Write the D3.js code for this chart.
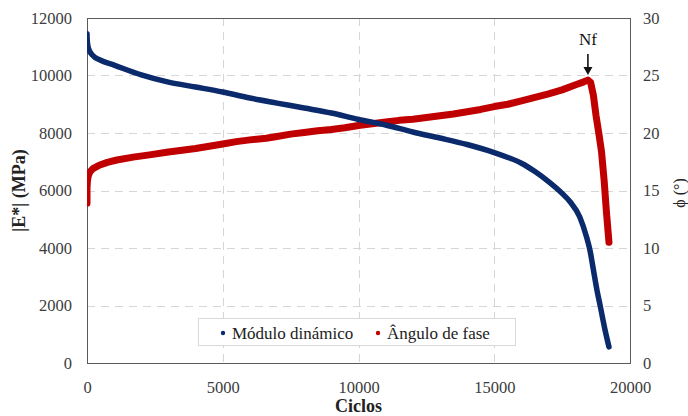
<!DOCTYPE html>
<html>
<head>
<meta charset="utf-8">
<script src="https://cdn.jsdelivr.net/npm/d3@7"></script>
<style>
  html, body { margin: 0; padding: 0; background: #fff; }
  svg { display: block; }
  svg text { font-family: "Liberation Serif", "DejaVu Serif", serif; }
</style>
</head>
<body>
<svg id="chart" width="688" height="416"></svg>
<script>
// Ensayo de fatiga: módulo dinámico |E*| y ángulo de fase frente a ciclos
const modulusCycles = [0, 10, 30, 60, 200, 500, 1000, 2000, 3000, 4000, 5000, 6000, 7000, 8000, 9000,
  10000, 11000, 12000, 13000, 14000, 15000, 15500, 16000, 16500, 17000, 17500, 17800, 18150,
  18400, 18530, 18650, 18780, 18900, 19080, 19225];
const modulusValues = [11450, 11200, 11050, 10930, 10710, 10530, 10360, 10020, 9770, 9600, 9425, 9215, 9040, 8870, 8695,
  8470, 8280, 8035, 7825, 7600, 7320, 7150, 6950, 6660, 6310, 5900, 5600, 5080,
  4380, 3900, 3250, 2550, 2000, 1150, 560];

const phaseCycles = [0, 0, 0, 15, 40, 100, 220, 450, 750, 1100, 1700, 2300, 3000, 3500, 4000, 4500, 5000,
  5500, 6000, 6600, 7000, 7500, 8000, 8500, 9000, 9500, 10000, 10500, 11000, 11500, 12000, 12500, 13000,
  13500, 14000, 14500, 15000, 15500, 16000, 16500, 17000, 17500, 18000, 18300, 18450, 18550, 18650,
  18750, 18850, 18950, 19050, 19130, 19225];
const phaseValues = [13.9, 14.6, 15.2, 15.8, 16.2, 16.6, 16.9, 17.2, 17.45, 17.65, 17.9, 18.1, 18.35, 18.5, 18.65, 18.85, 19.05,
  19.25, 19.4, 19.55, 19.7, 19.9, 20.05, 20.2, 20.3, 20.45, 20.65, 20.8, 20.95, 21.1, 21.2, 21.35, 21.5,
  21.65, 21.85, 22.05, 22.3, 22.5, 22.8, 23.1, 23.4, 23.75, 24.2, 24.45, 24.6, 24.4, 23.3,
  21.5, 20.0, 18.4, 15.8, 13.2, 10.5];

const xTicks = [0, 5000, 10000, 15000, 20000];
const modulusTicks = [0, 2000, 4000, 6000, 8000, 10000, 12000];
const phaseTicks = [0, 5, 10, 15, 20, 25, 30];

const seriesNames = ["Módulo dinámico", "Ângulo de fase"];
const seriesColors = ["#0b2a6b", "#c00000"];
const failureLabel = "Nf";
const failureCycle = 18450;
const failurePhase = 24.6;

const width = 688, height = 416;
const margin = { top: 18, right: 58, bottom: 53, left: 87 };
const svg = d3.select("#chart");
const serif = "Liberation Serif, DejaVu Serif, serif";

const x = d3.scaleLinear().domain([0, 20000]).range([margin.left, width - margin.right]);
const yLeft = d3.scaleLinear().domain([0, 12000]).range([height - margin.bottom, margin.top]);
const yRight = d3.scaleLinear().domain([0, 30]).range([height - margin.bottom, margin.top]);

const plotLeft = margin.left, plotRight = width - margin.right;
const plotTop = margin.top, plotBottom = height - margin.bottom;

// gridlines
const grid = svg.append("g").attr("stroke", "#d6d6d6").attr("stroke-width", 1).attr("stroke-dasharray", "8,6");
grid.selectAll("line.h").data(modulusTicks.filter(t => t > 0 && t < 12000)).join("line")
  .attr("x1", plotLeft).attr("x2", plotRight)
  .attr("y1", d => Math.round(yLeft(d)) + 0.5).attr("y2", d => Math.round(yLeft(d)) + 0.5);
grid.selectAll("line.v").data(xTicks.filter(t => t > 0 && t < 20000)).join("line")
  .attr("y1", plotTop).attr("y2", plotBottom)
  .attr("x1", d => Math.round(x(d)) + 0.5).attr("x2", d => Math.round(x(d)) + 0.5);

// plot frame
svg.append("rect")
  .attr("x", plotLeft + 0.5).attr("y", plotTop + 0.5)
  .attr("width", plotRight - plotLeft).attr("height", plotBottom - plotTop)
  .attr("fill", "none").attr("stroke", "#5a5a5a").attr("stroke-width", 1);

// axes (labels only, no tick marks)
const tickColor = "#3c3c3c";
const xAxis = svg.append("g").attr("transform", `translate(0,${plotBottom})`)
  .call(d3.axisBottom(x).tickValues(xTicks).tickSize(0).tickPadding(18).tickFormat(d3.format("d")));
const leftAxis = svg.append("g").attr("transform", `translate(${plotLeft},0)`)
  .call(d3.axisLeft(yLeft).tickValues(modulusTicks).tickSize(0).tickPadding(15).tickFormat(d3.format("d")));
const rightAxis = svg.append("g").attr("transform", `translate(${plotRight},0)`)
  .call(d3.axisRight(yRight).tickValues(phaseTicks).tickSize(0).tickPadding(13).tickFormat(d3.format("d")));
[xAxis, leftAxis, rightAxis].forEach(a => {
  a.attr("font-family", serif).attr("font-size", 16.5);
  a.select(".domain").remove();
  a.selectAll("text").attr("fill", tickColor);
});

// series
svg.append("clipPath").attr("id", "plot-clip").append("rect")
  .attr("x", plotLeft).attr("y", plotTop - 10).attr("width", plotRight - plotLeft).attr("height", plotBottom - plotTop + 10);

const modulusData = modulusCycles.map((c, i) => [c, modulusValues[i]]);
const phaseData = phaseCycles.map((c, i) => [c, phaseValues[i]]);

const modulusLine = d3.line().x(d => x(d[0])).y(d => yLeft(d[1])).curve(d3.curveMonotoneX);
const phaseLine = d3.line().x(d => x(d[0])).y(d => yRight(d[1])).curve(d3.curveLinear);

const series = svg.append("g").attr("clip-path", "url(#plot-clip)");
series.append("path").datum(phaseData).attr("d", phaseLine)
  .attr("fill", "none").attr("stroke", seriesColors[1]).attr("stroke-width", 7)
  .attr("stroke-linejoin", "round").attr("stroke-linecap", "round");
series.append("path").datum(modulusData).attr("d", modulusLine)
  .attr("fill", "none").attr("stroke", seriesColors[0]).attr("stroke-width", 5.5)
  .attr("stroke-linejoin", "round").attr("stroke-linecap", "round");

// failure annotation
const fx = x(failureCycle), fy = yRight(failurePhase);
svg.append("text").attr("x", fx).attr("y", fy - 35).attr("text-anchor", "middle")
  .attr("font-size", 17).attr("fill", "#111").text(failureLabel);
svg.append("line").attr("x1", fx).attr("x2", fx).attr("y1", fy - 26).attr("y2", fy - 12)
  .attr("stroke", "#111").attr("stroke-width", 1.6);
svg.append("path")
  .attr("d", `M${fx - 4.5},${fy - 13} L${fx + 4.5},${fy - 13} L${fx},${fy - 5} Z`)
  .attr("fill", "#111");

// legend
const legend = svg.append("g");
legend.append("rect").attr("x", 198.5).attr("y", 318.5).attr("width", 317).attr("height", 27)
  .attr("fill", "#fff").attr("stroke", "#d9d9d9").attr("stroke-width", 1);
const legendItems = [{ dot: 223, text: 232 }, { dot: 378, text: 387 }];
legendItems.forEach((it, i) => {
  legend.append("circle").attr("cx", it.dot).attr("cy", 333).attr("r", 2.2).attr("fill", seriesColors[i]);
  legend.append("text").attr("x", it.text).attr("y", 339).attr("font-size", 17).attr("fill", "#222")
    .text(seriesNames[i]);
});

// axis titles
svg.append("text").attr("x", (plotLeft + plotRight) / 2).attr("y", 412).attr("text-anchor", "middle")
  .attr("font-size", 18).attr("font-weight", "bold").attr("fill", "#222").text("Ciclos");
svg.append("text").attr("transform", `translate(25,${(plotTop + plotBottom) / 2}) rotate(-90)`)
  .attr("text-anchor", "middle").attr("font-size", 18).attr("font-weight", "bold").attr("fill", "#222")
  .text("|E*| (MPa)");
svg.append("text").attr("transform", `translate(685,193) rotate(-90)`)
  .attr("text-anchor", "middle").attr("font-size", 16).attr("fill", "#222")
  .text("ϕ (°)");
</script>
</body>
</html>
